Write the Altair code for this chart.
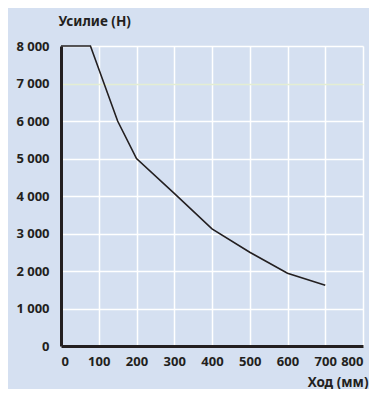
import altair as alt
import pandas as pd

stroke_mm = [0, 78, 150, 200, 300, 400, 500, 600, 700]
force_n = [8000, 8000, 6000, 5000, 4070, 3125, 2500, 1940, 1620]

x_ticks = [0, 100, 200, 300, 400, 500, 600, 700, 800]
y_ticks = [0, 1000, 2000, 3000, 4000, 5000, 6000, 7000, 8000]

df = pd.DataFrame({"x": stroke_mm, "y": force_n})

FONT = "Noto Sans"
DARK = "#231f20"

chart = alt.Chart(df).mark_line(color=DARK, strokeWidth=1.6).encode(
    x=alt.X("x:Q", scale=alt.Scale(domain=[0, 800], nice=False),
            axis=alt.Axis(values=x_ticks, title="Ход (мм)",
                          titleAlign="right", titleX=307, titleY=40,
                          titleBaseline="alphabetic",
                          grid=True, gridColor="#ffffff", gridWidth=1.5,
                          tickSize=0, labelPadding=9,
                          domainColor=DARK, domainWidth=3)),
    y=alt.Y("y:Q", scale=alt.Scale(domain=[0, 8000], nice=False),
            axis=alt.Axis(values=y_ticks, title="Усилие (Н)", titleAngle=0,
                          titleAlign="left", titleX=-3, titleY=-21,
                          titleBaseline="alphabetic",
                          labelExpr="replace(format(datum.value, ','), ',', ' ')",
                          grid=True,
                          gridColor={"condition": {"test": "datum.value === 7000", "value": "#e4edd3"}, "value": "#ffffff"},
                          gridWidth=1.5,
                          tickSize=0, labelPadding=12,
                          domainColor=DARK, domainWidth=3)),
).properties(
    width=302, height=300,
    autosize=alt.AutoSizeParams(type="none"),
    padding={"left": 53, "top": 38, "right": 6, "bottom": 43},
).configure(
    background="#d5e0f1",
).configure_view(
    stroke=None,
).configure_axis(
    labelFont=FONT, labelFontSize=13, labelFontWeight="bold", labelColor=DARK,
    titleFont=FONT, titleFontSize=13.5, titleFontWeight="bold", titleColor=DARK,
)

chart.save("out.html", embed_options={"renderer": "svg", "actions": False})
